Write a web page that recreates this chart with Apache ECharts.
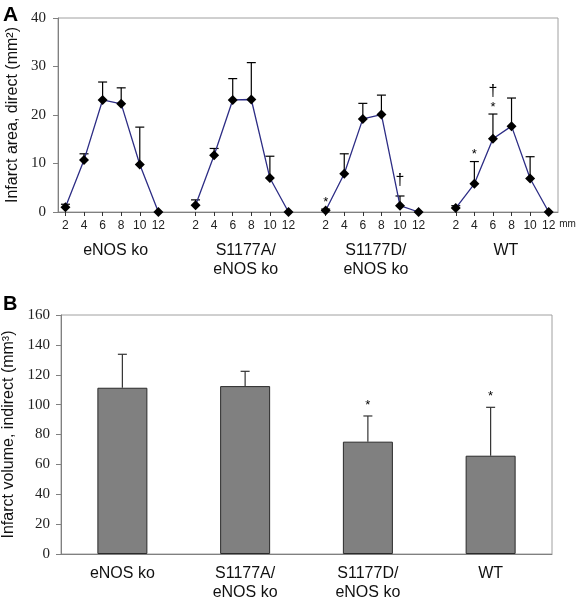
<!DOCTYPE html>
<html>
<head>
<meta charset="utf-8">
<script src="https://cdn.jsdelivr.net/npm/echarts@6/dist/echarts.min.js"></script>
<style>
  html, body { margin: 0; padding: 0; background: #fff; }
  #chart { width: 576px; height: 600px; }
</style>
</head>
<body>
<div id="chart"></div>
<script>
// ---------- data ----------
const mmValues = [2, 4, 6, 8, 10, 12];
const groupNames = ['eNOS ko', 'S1177A/\neNOS ko', 'S1177D/\neNOS ko', 'WT'];

// Panel A: infarct area, direct (mm²) — mean and upper SD per slice position
const areaEnosKo    = [1.0, 10.7, 23.1, 22.3, 9.8, 0];
const areaEnosKoSd  = [0.6, 1.3, 3.7, 3.3, 7.7, 0];
const areaS1177A    = [1.4, 11.7, 23.1, 23.2, 7.0, 0];
const areaS1177ASd  = [1.1, 1.4, 4.4, 7.6, 4.5, 0];
const areaS1177D    = [0.3, 7.9, 19.2, 20.1, 1.3, 0];
const areaS1177DSd  = [0.3, 4.1, 3.2, 4.0, 2.0, 0];
const areaWT        = [0.8, 5.8, 15.1, 17.7, 6.9, 0];
const areaWTSd      = [0.5, 4.6, 5.1, 5.8, 4.5, 0];
// significance marks, listed bottom to top
const sigEnosKo = ['', '', '', '', '', ''];
const sigS1177A = ['', '', '', '', '', ''];
const sigS1177D = ['*', '', '', '', '†', ''];
const sigWT     = ['', '*', '*†', '', '', ''];
const areaTicks = [0, 10, 20, 30, 40];

// Panel B: infarct volume, indirect (mm³)
const volumeCategories = ['eNOS ko', 'S1177A/\neNOS ko', 'S1177D/\neNOS ko', 'WT'];
const volume   = [111.3, 112.4, 75.2, 65.8];
const volumeSd = [22.4, 9.9, 17.2, 32.4];
const volumeSig = ['', '', '*', '*'];
const volumeTicks = [0, 20, 40, 60, 80, 100, 120, 140, 160];

// ---------- build ----------
const SPAN = 14; // each group occupies 14 mm-units on the shared axis (6 positions + gap)
const areaMeans = [areaEnosKo, areaS1177A, areaS1177D, areaWT];
const areaSds = [areaEnosKoSd, areaS1177ASd, areaS1177DSd, areaWTSd];
const areaSigs = [sigEnosKo, sigS1177A, sigS1177D, sigWT];

const tickVals = [];
groupNames.forEach((g, gi) => mmValues.forEach(m => tickVals.push(gi * SPAN + m)));
const groupLabelVals = groupNames.map((g, gi) => gi * SPAN + 7.4);

const errA = [];
areaMeans.forEach((arr, gi) => arr.forEach((v, k) => {
  errA.push({ x: gi * SPAN + mmValues[k], mean: v, sd: areaSds[gi][k], sig: areaSigs[gi][k] });
}));

const SANS = 'Liberation Sans, Arial, sans-serif';
const SERIF = 'Liberation Serif, Times New Roman, serif';

function sigTexts(sig, topY, startGap) {
  const out = [];
  let cursor = topY - startGap;
  for (const ch of sig) {
    if (ch === '*') {
      out.push({ type: 'text', style: { text: '*', x: 0, y: 0, font: '13px ' + SANS, fill: '#000', align: 'center', verticalAlign: 'middle' }, y: cursor + 1, x: 0 });
      cursor -= 7;
    } else if (ch === '†') {
      out.push({ type: 'text', style: { text: '†', x: 0, y: 0, font: '16px ' + SANS, fill: '#000', align: 'center', verticalAlign: 'middle' }, y: cursor - 7, x: 0 });
      cursor -= 16;
    }
  }
  return out;
}

function errRenderer(list, capHalf, color, startGap) {
  return function (params, api) {
    const d = list[params.dataIndex];
    const p0 = api.coord([api.value(0), api.value(1)]);
    const p1 = api.coord([api.value(0), api.value(1) + api.value(2)]);
    const children = [];
    if (d.sd > 0) {
      children.push({ type: 'line', shape: { x1: p0[0], y1: p0[1], x2: p1[0], y2: p1[1] }, style: { stroke: color, lineWidth: 1.2 } });
      children.push({ type: 'line', shape: { x1: p1[0] - capHalf, y1: p1[1], x2: p1[0] + capHalf, y2: p1[1] }, style: { stroke: color, lineWidth: 1.2 } });
    }
    sigTexts(d.sig, p1[1], startGap).forEach(t => { t.x = p1[0]; children.push(t); });
    return { type: 'group', children };
  };
}

const errB = volume.map((v, i) => ({ x: i, mean: v, sd: volumeSd[i], sig: volumeSig[i] }));

const lineSeries = areaMeans.map((arr, gi) => ({
  type: 'line',
  name: groupNames[gi],
  xAxisIndex: 0, yAxisIndex: 0,
  data: arr.map((v, k) => [gi * SPAN + mmValues[k], v]),
  symbol: 'diamond',
  symbolSize: [10, 10],
  lineStyle: { color: '#2d2d85', width: 1.3 },
  itemStyle: { color: '#000' },
  z: 5,
  animation: false
}));

function mmLabel(v) {
  const r = v - SPAN * Math.floor(v / SPAN);
  return String(Math.round(r));
}
function groupLabel(v) {
  return groupNames[Math.floor(v / SPAN)] || '';
}

const option = {
  animation: false,
  backgroundColor: '#fff',
  title: [
    { text: 'A', left: -2, top: 0, textStyle: { fontFamily: SANS, fontWeight: 'bold', fontSize: 21, color: '#000' } },
    { text: 'B', left: -2, top: 289, textStyle: { fontFamily: SANS, fontWeight: 'bold', fontSize: 20, color: '#000' } }
  ],
  grid: [
    { left: 58, top: 18, right: 18, height: 194, show: true, borderColor: '#a0a0a0', borderWidth: 1, outerBoundsMode: 'none', containLabel: false },
    { left: 61, top: 315, right: 24, height: 239, show: true, borderColor: '#a0a0a0', borderWidth: 1, outerBoundsMode: 'none', containLabel: false }
  ],
  xAxis: [
    {
      type: 'value', gridIndex: 0, min: 1.2, max: 55,
      axisLine: { show: true, lineStyle: { color: '#808080', width: 1 } },
      axisTick: { show: true, customValues: tickVals, length: 4, lineStyle: { color: '#333' } },
      axisLabel: { customValues: tickVals, formatter: mmLabel, fontFamily: SANS, fontSize: 12, color: '#222', margin: 8 },
      splitLine: { show: false },
      name: 'mm', nameLocation: 'end', nameGap: 1,
      nameTextStyle: { fontFamily: SANS, fontSize: 10, color: '#222', verticalAlign: 'top', padding: [7, 0, 0, 0] }
    },
    {
      type: 'value', gridIndex: 0, min: 1.2, max: 55, position: 'bottom',
      axisLine: { show: false }, axisTick: { show: false },
      axisLabel: { customValues: groupLabelVals, formatter: groupLabel, fontFamily: SANS, fontSize: 16, lineHeight: 19, color: '#111', margin: 29 },
      splitLine: { show: false }
    },
    {
      type: 'category', gridIndex: 1, data: volumeCategories,
      axisLine: { show: true, lineStyle: { color: '#808080' } },
      axisTick: { show: false },
      axisLabel: { fontFamily: SANS, fontSize: 16, lineHeight: 19, color: '#111', margin: 10 },
      splitLine: { show: false }
    }
  ],
  yAxis: [
    {
      type: 'value', gridIndex: 0, min: areaTicks[0], max: areaTicks[areaTicks.length - 1], interval: 10,
      axisLine: { show: true, lineStyle: { color: '#808080' } },
      axisTick: { show: true, length: 5, lineStyle: { color: '#808080' } },
      axisLabel: { fontFamily: SERIF, fontSize: 15, color: '#222', margin: 12 },
      splitLine: { show: false },
      name: 'Infarct area, direct (mm²)', nameLocation: 'middle', nameGap: 36,
      nameTextStyle: { fontFamily: SANS, fontSize: 16, color: '#111' }
    },
    {
      type: 'value', gridIndex: 1, min: volumeTicks[0], max: volumeTicks[volumeTicks.length - 1], interval: 20,
      axisLine: { show: true, lineStyle: { color: '#808080' } },
      axisTick: { show: true, length: 5, lineStyle: { color: '#808080' } },
      axisLabel: { fontFamily: SERIF, fontSize: 15, color: '#222', margin: 11 },
      splitLine: { show: false },
      name: 'Infarct volume, indirect (mm³)', nameLocation: 'middle', nameGap: 38,
      nameTextStyle: { fontFamily: SANS, fontSize: 16, color: '#111' }
    }
  ],
  series: [
    {
      type: 'custom', name: 'area error', xAxisIndex: 0, yAxisIndex: 0,
      data: errA.map(d => [d.x, d.mean, d.sd]),
      encode: { x: 0, y: 1 },
      renderItem: errRenderer(errA, 4.5, '#000', 8),
      z: 3, clip: false
    },
    ...lineSeries,
    {
      type: 'bar', name: 'volume', xAxisIndex: 2, yAxisIndex: 1,
      data: volume, barWidth: 50,
      itemStyle: { color: '#808080', borderColor: '#2a2a2a', borderWidth: 1 },
      z: 2
    },
    {
      type: 'custom', name: 'volume error', xAxisIndex: 2, yAxisIndex: 1,
      data: errB.map(d => [d.x, d.mean, d.sd]),
      encode: { x: 0, y: 1 },
      renderItem: errRenderer(errB, 4.5, '#333', 12),
      z: 3, clip: false
    }
  ]
};

const chart = echarts.init(document.getElementById('chart'), null, { renderer: 'canvas' });
chart.setOption(option);
</script>
</body>
</html>
